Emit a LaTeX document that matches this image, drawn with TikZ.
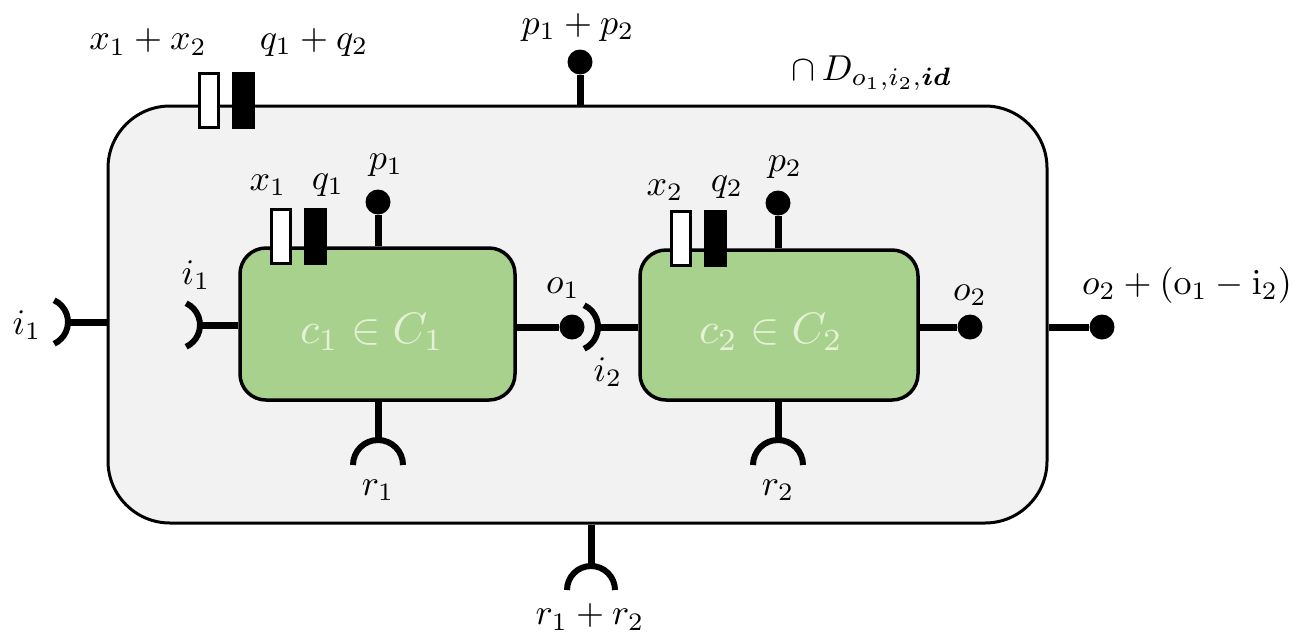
\documentclass[tikz,border=0pt]{standalone}
\usepackage{amsmath}
\usetikzlibrary{calc}
\definecolor{outerfill}{HTML}{F2F2F2}
\definecolor{blockgreen}{HTML}{A9D18E}
\definecolor{blocktext}{HTML}{E6F2D8}
\begin{document}
\begin{tikzpicture}[x=1pt,y=-1pt,
  outerbox/.style={draw=black,line width=3pt,fill=outerfill,rounded corners=62pt,minimum width=939pt,minimum height=417pt,inner sep=0pt},
  blockbox/.style={draw=black,line width=3.5pt,fill=blockgreen,rounded corners=26pt,inner sep=0pt},
  stem/.style={line width=7pt},
  sock/.style={line width=6pt},
  dot/.style={circle,fill=black,minimum size=25pt,inner sep=0pt},
  wrect/.style={draw=black,line width=3pt,fill=white,minimum width=19pt,minimum height=54pt,inner sep=0pt},
  brect/.style={fill=black,minimum width=23pt,minimum height=57pt,inner sep=0pt},
  lab/.style={inner sep=0pt,scale=3.6,transform shape},
  btext/.style={inner sep=0pt,text=blocktext,scale=4.4,transform shape}]
\useasboundingbox (0,0) rectangle (1311,638);
% outer box
\node[outerbox] (outer) at (577.5,314.5) {};
% blocks
\node[blockbox,minimum width=275pt,minimum height=152pt] (b1) at (377.5,324) {};
\node[blockbox,minimum width=278pt,minimum height=150pt] (b2) at (779,325) {};
\node[btext] (t1) at (372,332) {$c_1\in C_1$};
\node[btext] (t2) at (771,332) {$c_2\in C_2$};
% outer top: x, q, p
\node[wrect] (ox) at (208.5,100) {};
\node[brect] (oq) at (243,100) {};
\node[dot] (opd) at (580,62) {};
\draw[stem] (opd |- outer.north) -- (opd);
% outer left input socket
\coordinate (oi) at (68,322);
\draw[stem] (outer.west |- oi) -- (oi);
\draw[sock] (oi) ++(-24pt,0) ++(65:24pt) arc[start angle=65,end angle=-65,radius=24pt];
% outer right output
\node[dot] (ood) at (1102,327) {};
\draw[stem] (outer.east |- ood) -- (ood);
% outer bottom socket
\coordinate (orc) at (591,590);
\coordinate (ort) at (591,566);
\draw[stem] (outer.south -| ort) -- (ort);
\draw[sock] (orc) ++(-24pt,0) arc[start angle=180,end angle=0,radius=24pt];
% block 1 ports
\node[wrect] (x1r) at (281,236.5) {};
\node[brect] (q1r) at (315.5,236.5) {};
\node[dot] (p1d) at (378,202) {};
\draw[stem] (p1d |- b1.north) -- (p1d);
\coordinate (i1s) at (200,325);
\draw[stem] (b1.west |- i1s) -- (i1s);
\draw[sock] (i1s) ++(-24pt,0) ++(65:24pt) arc[start angle=65,end angle=-65,radius=24pt];
\node[dot] (o1d) at (572,327) {};
\draw[stem] (b1.east |- o1d) -- (o1d);
\coordinate (r1c) at (378,465);
\coordinate (r1t) at (378,441);
\draw[stem] (b1.south -| r1t) -- (r1t);
\draw[sock] (r1c) ++(-25pt,0) arc[start angle=180,end angle=0,radius=25pt];
% block 2 ports
\node[wrect] (x2r) at (681,238) {};
\node[brect] (q2r) at (715.5,238) {};
\node[dot] (p2d) at (778,203) {};
\draw[stem] (p2d |- b2.north) -- (p2d);
\coordinate (i2s) at (598,327);
\draw[stem] (b2.west |- i2s) -- (i2s);
\draw[sock] (i2s) ++(-24pt,0) ++(65:24pt) arc[start angle=65,end angle=-65,radius=24pt];
\node[dot] (o2d) at (970,327) {};
\draw[stem] (b2.east |- o2d) -- (o2d);
\coordinate (r2c) at (778,465);
\coordinate (r2t) at (778,441);
\draw[stem] (b2.south -| r2t) -- (r2t);
\draw[sock] (r2c) ++(-25pt,0) arc[start angle=180,end angle=0,radius=25pt];
% labels
\node[lab] (lx12) at (148,42) {$x_1+x_2$};
\node[lab] (lq12) at (314,42) {$q_1+q_2$};
\node[lab] (lp12) at (578,27) {$p_1+p_2$};
\node[lab] (ld) at (872,73) {$\cap\, D_{o_1,i_2,\boldsymbol{id}}$};
\node[lab] (li1o) at (27,325) {$i_1$};
\node[lab] (li1) at (196,275) {$i_1$};
\node[lab] (lx1) at (268,185) {$x_1$};
\node[lab] (lq1) at (328,185) {$q_1$};
\node[lab] (lp1) at (386,165) {$p_1$};
\node[lab] (lx2) at (665,190) {$x_2$};
\node[lab] (lq2) at (727,187) {$q_2$};
\node[lab] (lp2) at (785,167) {$p_2$};
\node[lab] (lo1) at (563,288) {$o_1$};
\node[lab] (li2) at (608,372) {$i_2$};
\node[lab] (lo2) at (970,295) {$o_2$};
\node[lab] (lout) at (1187,285) {$o_2+(\mathrm{o}_1-\mathrm{i}_2)$};
\node[lab] (lr1) at (378,490) {$r_1$};
\node[lab] (lr2) at (778,490) {$r_2$};
\node[lab] (lr12) at (590,617) {$r_1+r_2$};
\end{tikzpicture}
\end{document}
